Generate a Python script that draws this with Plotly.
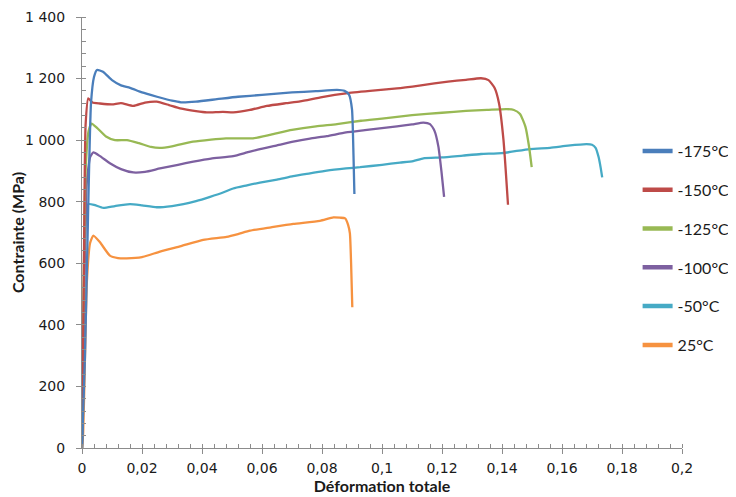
import plotly.graph_objects as go

series_names = ["-175°C", "-150°C", "-125°C", "-100°C", "-50°C", "25°C"]
series_colors = ["#4A7EBB", "#BE4B48", "#98B954", "#7D60A0", "#46AAC5", "#F69240"]

x_m175 = [0, 0.0010, 0.0020, 0.0030, 0.0040, 0.0050, 0.0070, 0.0100, 0.0130, 0.0160, 0.0200, 0.0250,
          0.0300, 0.0330, 0.0380, 0.0450, 0.0520, 0.0600, 0.0700, 0.0780, 0.0850, 0.0875, 0.0890,
          0.0900, 0.0905, 0.0908]
y_m175 = [0, 300, 750, 1120, 1205, 1228, 1222, 1195, 1178, 1170, 1155, 1141, 1128, 1123, 1125, 1133,
          1141, 1147, 1155, 1159, 1163, 1160, 1148, 1100, 950, 825]

x_m150 = [0, 0.0006, 0.0012, 0.0021, 0.0035, 0.0060, 0.0100, 0.0130, 0.0171, 0.0210, 0.0249, 0.0290,
          0.0327, 0.0380, 0.0416, 0.0470, 0.0504, 0.0560, 0.0616, 0.0680, 0.0727, 0.0800, 0.0880,
          0.0960, 0.1050, 0.1130, 0.1220, 0.1280, 0.1330, 0.1355, 0.1375, 0.1390, 0.1405, 0.1420]
y_m150 = [0, 550, 1050, 1136, 1122, 1119, 1116, 1120, 1111, 1122, 1125, 1114, 1103, 1094, 1090, 1092,
          1090, 1098, 1111, 1120, 1126, 1140, 1152, 1160, 1168, 1178, 1190, 1196, 1201, 1195, 1170,
          1120, 1000, 790]

x_m125 = [0, 0.0005, 0.0012, 0.0022, 0.0032, 0.0050, 0.0080, 0.0110, 0.0150, 0.0190, 0.0230, 0.0260,
          0.0300, 0.0370, 0.0430, 0.0480, 0.0570, 0.0630, 0.0700, 0.0780, 0.0850, 0.0930, 0.1000,
          0.1100, 0.1200, 0.1280, 0.1350, 0.1415, 0.1440, 0.1460, 0.1478, 0.1490, 0.1499]
y_m125 = [0, 500, 900, 1030, 1054, 1040, 1012, 1000, 1000, 990, 978, 975, 980, 995, 1002, 1006, 1006,
          1018, 1033, 1045, 1052, 1063, 1070, 1081, 1089, 1095, 1098, 1101, 1098, 1085, 1044, 980, 912]

x_m100 = [0, 0.0006, 0.0015, 0.0027, 0.0038, 0.0060, 0.0093, 0.0130, 0.0171, 0.0210, 0.0260, 0.0320,
          0.0371, 0.0430, 0.0504, 0.0550, 0.0593, 0.0650, 0.0704, 0.0760, 0.0816, 0.0880, 0.0950,
          0.1050, 0.1100, 0.1138, 0.1160, 0.1175, 0.1188, 0.1198, 0.1207]
y_m100 = [0, 400, 850, 945, 960, 948, 925, 906, 895, 897, 908, 920, 930, 940, 948, 960, 971, 983, 995,
          1005, 1013, 1025, 1033, 1045, 1051, 1057, 1052, 1030, 979, 900, 816]

x_m50 = [0, 0.0008, 0.0015, 0.0021, 0.0040, 0.0071, 0.0110, 0.0160, 0.0200, 0.0249, 0.0300, 0.0338,
         0.0380, 0.0427, 0.0470, 0.0504, 0.0550, 0.0593, 0.0650, 0.0704, 0.0760, 0.0816, 0.0880, 0.0927,
         0.1000, 0.1060, 0.1104, 0.1138, 0.1200, 0.1270, 0.1330, 0.1400, 0.1493, 0.1560, 0.1620, 0.1682,
         0.1700, 0.1712, 0.1722, 0.1729, 0.1734]
y_m50 = [0, 600, 770, 792, 790, 780, 786, 792, 788, 782, 786, 792, 802, 816, 830, 843, 853, 862, 872,
         883, 892, 901, 908, 912, 920, 927, 932, 941, 944, 950, 955, 958, 971, 975, 982, 987, 985, 975,
         945, 910, 879]

x_p25 = [0, 0.0004, 0.0010, 0.0016, 0.0027, 0.0038, 0.0060, 0.0093, 0.0120, 0.0149, 0.0200, 0.0260,
         0.0330, 0.0404, 0.0482, 0.0520, 0.0560, 0.0630, 0.0704, 0.0793, 0.0838, 0.0860, 0.0877, 0.0887,
         0.0893, 0.0897, 0.0901]
y_p25 = [0, 50, 300, 535, 666, 690, 668, 625, 617, 616, 620, 638, 656, 676, 686, 695, 706, 717, 728,
         738, 749, 748, 746, 725, 697, 600, 457]

xs = [x_m175, x_m150, x_m125, x_m100, x_m50, x_p25]
ys = [y_m175, y_m150, y_m125, y_m100, y_m50, y_p25]

x_title = "Déformation totale"
y_title = "Contrainte (MPa)"

fig = go.Figure()
# data curves (drawn in reverse so the first series is on top)
for name, color, x, y in reversed(list(zip(series_names, series_colors, xs, ys))):
    fig.add_trace(go.Scatter(x=x, y=y, mode="lines", name=name, showlegend=False,
                             line=dict(color=color, width=2.3, shape="spline", smoothing=0.5)))
# legend entries with thicker keys
for i, (name, color) in enumerate(zip(series_names, series_colors)):
    fig.add_trace(go.Scatter(x=[None], y=[None], mode="lines", name=name, legendgroup=f"g{i}",
                             line=dict(color=color, width=4.5)))

axis_common = dict(showgrid=False, zeroline=False, showline=True, linecolor="#8C8C8C", linewidth=1,
                   ticks="outside", ticklen=5, tickcolor="#8C8C8C", automargin=False,
                   tickfont=dict(family="DejaVu Sans", size=14, color="#1A1A1A"))

# the page body adds an 8 px offset, so the figure is 8 px smaller on each axis
fig.update_layout(
    width=728, height=489,
    margin=dict(l=74, r=54, t=9, b=49, autoexpand=False),
    paper_bgcolor="white", plot_bgcolor="white",
    separators=", ",
    showlegend=True,
    legend=dict(x=0.926, xanchor="left", y=0.7285, yanchor="top", tracegroupgap=15,
                font=dict(family="Lato", size=16, color="#1A1A1A"), bgcolor="rgba(0,0,0,0)"),
    xaxis=dict(range=[0, 0.2], tickvals=[0, 0.02, 0.04, 0.06, 0.08, 0.1, 0.12, 0.14, 0.16, 0.18, 0.2],
               minor=dict(dtick=0.004, ticks="inside", ticklen=4, tickcolor="#8C8C8C"),
               ticklabelstandoff=2,
               title=dict(text=x_title, standoff=5,
                          font=dict(family="Lato", size=16, color="#1A1A1A", weight="bold")),
               **axis_common),
    yaxis=dict(range=[0, 1400], dtick=200, tickformat=",d",
               minor=dict(dtick=40, ticks="inside", ticklen=4, tickcolor="#8C8C8C"),
               ticklabelstandoff=8,
               title=dict(text=y_title, standoff=0,
                          font=dict(family="Lato", size=16, color="#1A1A1A", weight="bold")),
               **axis_common),
)

fig.write_html("out.html")
